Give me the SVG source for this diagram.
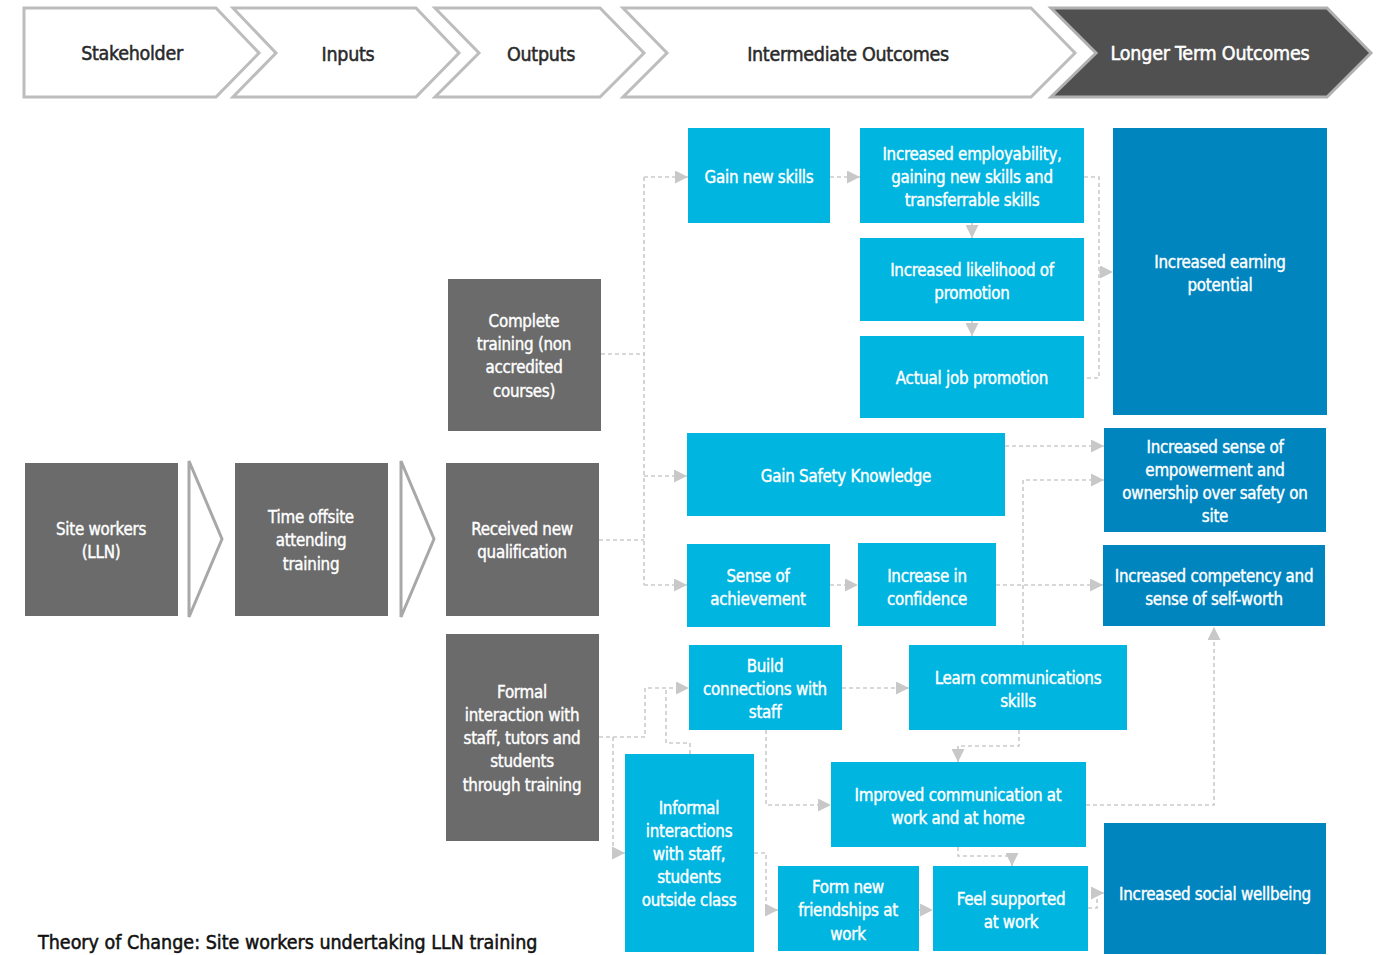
<svg xmlns="http://www.w3.org/2000/svg" width="1379" height="955" viewBox="0 0 1379 955">
<style>
text{font-family:"DejaVu Sans Condensed","DejaVu Sans",sans-serif;font-stretch:condensed;text-anchor:middle;}
.hd{fill:#fff;stroke:#bdbdbd;stroke-width:3;}
.hdk{fill:#505050;stroke:#b0b0b0;stroke-width:3;}
.ht{font-size:19.5px;fill:#2a2a2a;stroke:#2a2a2a;stroke-width:0.5;letter-spacing:-0.3px;}
.htw{font-size:19.5px;fill:#fff;stroke:#fff;stroke-width:0.5;letter-spacing:-0.2px;}
.g{fill:#6b6b6b;}
.c{fill:#00b5e0;}
.b{fill:#0085bf;}
.t{font-size:16.8px;fill:#fff;stroke:#fff;stroke-width:0.4;letter-spacing:-0.25px;}
.chev{fill:#fff;stroke:#a8a8a8;stroke-width:3;}
.cn{fill:none;stroke:#cbcbcb;stroke-width:1.6;stroke-dasharray:4 3;}
</style>
<defs>
<marker id="ah" viewBox="0 0 10 10" refX="10" refY="5" markerWidth="13" markerHeight="13" markerUnits="userSpaceOnUse" orient="auto">
<path d="M0,0 L10,5 L0,10 z" fill="#c8c8c8"/>
</marker>
</defs>

<g id="header">
<polygon class="hd" points="24,8 216,8 259,53 216,97 24,97"/>
<polygon class="hd" points="233,8 416,8 459,53 416,97 233,97 276,53"/>
<polygon class="hd" points="435,8 600,8 644,53 600,97 435,97 479,53"/>
<polygon class="hd" points="623,8 1031,8 1075,53 1031,97 623,97 667,53"/>
<polygon class="hdk" points="1051,8 1327,8 1371,53 1327,97 1051,97 1096,53"/>
<text class="ht" x="132" y="60">Stakeholder</text>
<text class="ht" x="348" y="61">Inputs</text>
<text class="ht" x="541" y="61">Outputs</text>
<text class="ht" x="848" y="61">Intermediate Outcomes</text>
<text class="htw" x="1210" y="60">Longer Term Outcomes</text>
</g>

<g id="chevrons">
<polygon class="chev" points="189,461 222,539 189,617"/>
<polygon class="chev" points="401,461 434,539 401,617"/>
</g>

<g id="connectors">
<polyline class="cn" points="601,354 644,354"/>
<polyline class="cn" points="599,540 644,540"/>
<polyline class="cn" points="644,177 644,585"/>
<polyline class="cn" points="644,177 688,177" marker-end="url(#ah)"/>
<polyline class="cn" points="644,476 687,476" marker-end="url(#ah)"/>
<polyline class="cn" points="644,585 687,585" marker-end="url(#ah)"/>
<polyline class="cn" points="830,177 860,177" marker-end="url(#ah)"/>
<polyline class="cn" points="972,223 972,238" marker-end="url(#ah)"/>
<polyline class="cn" points="972,321 972,336" marker-end="url(#ah)"/>
<polyline class="cn" points="1084,177 1099,177 1099,378 1084,378"/>
<polyline class="cn" points="1099,272 1113,272" marker-end="url(#ah)"/>
<polyline class="cn" points="1005,446 1104,446" marker-end="url(#ah)"/>
<polyline class="cn" points="1023,645 1023,480 1104,480" marker-end="url(#ah)"/>
<polyline class="cn" points="996,585 1103,585" marker-end="url(#ah)"/>
<polyline class="cn" points="830,585 858,585" marker-end="url(#ah)"/>
<polyline class="cn" points="599,737 645,737 645,688 689,688" marker-end="url(#ah)"/>
<polyline class="cn" points="613,737 613,853 625,853" marker-end="url(#ah)"/>
<polyline class="cn" points="690,754 690,743 666,743 666,688"/>
<polyline class="cn" points="766,730 766,805 831,805" marker-end="url(#ah)"/>
<polyline class="cn" points="842,688 909,688" marker-end="url(#ah)"/>
<polyline class="cn" points="1019,730 1019,746 958,746 958,762" marker-end="url(#ah)"/>
<polyline class="cn" points="1086,805 1214,805 1214,627" marker-end="url(#ah)"/>
<polyline class="cn" points="958,847 958,856 1012,856 1012,866" marker-end="url(#ah)"/>
<polyline class="cn" points="754,853 766,853 766,910 778,910" marker-end="url(#ah)"/>
<polyline class="cn" points="919,910 933,910" marker-end="url(#ah)"/>
<polyline class="cn" points="1088,908 1097,908 1097,893 1104,893" marker-end="url(#ah)"/>
</g>

<g id="n-site-workers"><rect class="g" x="25" y="463" width="153" height="153"/>
<text class="t" x="101" y="535">Site workers</text><text class="t" x="101" y="558">(LLN)</text></g>
<g id="n-time-offsite"><rect class="g" x="235" y="463" width="153" height="153"/>
<text class="t" x="311" y="523">Time offsite</text><text class="t" x="311" y="546">attending</text><text class="t" x="311" y="570">training</text></g>
<g id="n-complete-training"><rect class="g" x="448" y="279" width="153" height="152"/>
<text class="t" x="524" y="327">Complete</text><text class="t" x="524" y="350">training (non</text><text class="t" x="524" y="373">accredited</text><text class="t" x="524" y="397">courses)</text></g>
<g id="n-received-qualification"><rect class="g" x="446" y="463" width="153" height="153"/>
<text class="t" x="522" y="535">Received new</text><text class="t" x="522" y="558">qualification</text></g>
<g id="n-formal-interaction"><rect class="g" x="446" y="634" width="153" height="207"/>
<text class="t" x="522" y="698">Formal</text><text class="t" x="522" y="721">interaction with</text><text class="t" x="522" y="744">staff, tutors and</text><text class="t" x="522" y="767">students</text><text class="t" x="522" y="791">through training</text></g>

<g id="n-gain-new-skills"><rect class="c" x="688" y="128" width="142" height="95"/>
<text class="t" x="759" y="183">Gain new skills</text></g>
<g id="n-employability"><rect class="c" x="860" y="128" width="224" height="95"/>
<text class="t" x="972" y="160">Increased employability,</text><text class="t" x="972" y="183">gaining new skills and</text><text class="t" x="972" y="206">transferrable skills</text></g>
<g id="n-likelihood-promotion"><rect class="c" x="860" y="238" width="224" height="83"/>
<text class="t" x="972" y="276">Increased likelihood of</text><text class="t" x="972" y="299">promotion</text></g>
<g id="n-job-promotion"><rect class="c" x="860" y="336" width="224" height="82"/>
<text class="t" x="972" y="384">Actual job promotion</text></g>
<g id="n-safety-knowledge"><rect class="c" x="687" y="433" width="318" height="83"/>
<text class="t" x="846" y="482">Gain Safety Knowledge</text></g>
<g id="n-sense-achievement"><rect class="c" x="687" y="544" width="143" height="83"/>
<text class="t" x="758" y="582">Sense of</text><text class="t" x="758" y="605">achievement</text></g>
<g id="n-confidence"><rect class="c" x="858" y="543" width="138" height="83"/>
<text class="t" x="927" y="582">Increase in</text><text class="t" x="927" y="605">confidence</text></g>
<g id="n-build-connections"><rect class="c" x="689" y="645" width="153" height="85"/>
<text class="t" x="765" y="672">Build</text><text class="t" x="765" y="695">connections with</text><text class="t" x="765" y="718">staff</text></g>
<g id="n-learn-communications"><rect class="c" x="909" y="645" width="218" height="85"/>
<text class="t" x="1018" y="684">Learn communications</text><text class="t" x="1018" y="707">skills</text></g>
<g id="n-informal-interactions"><rect class="c" x="625" y="754" width="129" height="198"/>
<text class="t" x="689" y="814">Informal</text><text class="t" x="689" y="837">interactions</text><text class="t" x="689" y="860">with staff,</text><text class="t" x="689" y="883">students</text><text class="t" x="689" y="906">outside class</text></g>
<g id="n-improved-communication"><rect class="c" x="831" y="762" width="255" height="85"/>
<text class="t" x="958" y="801">Improved communication at</text><text class="t" x="958" y="824">work and at home</text></g>
<g id="n-new-friendships"><rect class="c" x="778" y="866" width="141" height="85"/>
<text class="t" x="848" y="893">Form new</text><text class="t" x="848" y="916">friendships at</text><text class="t" x="848" y="940">work</text></g>
<g id="n-feel-supported"><rect class="c" x="933" y="866" width="155" height="85"/>
<text class="t" x="1011" y="905">Feel supported</text><text class="t" x="1011" y="928">at work</text></g>

<g id="n-earning-potential"><rect class="b" x="1113" y="128" width="214" height="287"/>
<text class="t" x="1220" y="268">Increased earning</text><text class="t" x="1220" y="291">potential</text></g>
<g id="n-empowerment"><rect class="b" x="1104" y="428" width="222" height="104"/>
<text class="t" x="1215" y="453">Increased sense of</text><text class="t" x="1215" y="476">empowerment and</text><text class="t" x="1215" y="499">ownership over safety on</text><text class="t" x="1215" y="522">site</text></g>
<g id="n-competency"><rect class="b" x="1103" y="545" width="222" height="81"/>
<text class="t" x="1214" y="582">Increased competency and</text><text class="t" x="1214" y="605">sense of self-worth</text></g>
<g id="n-social-wellbeing"><rect class="b" x="1104" y="823" width="222" height="131"/>
<text class="t" x="1215" y="900">Increased social wellbeing</text></g>

<g id="title"><text x="38" y="949" style="text-anchor:start;font-size:19.5px;fill:#111;stroke:#111;stroke-width:0.5;">Theory of Change: Site workers undertaking LLN training</text></g>
</svg>
